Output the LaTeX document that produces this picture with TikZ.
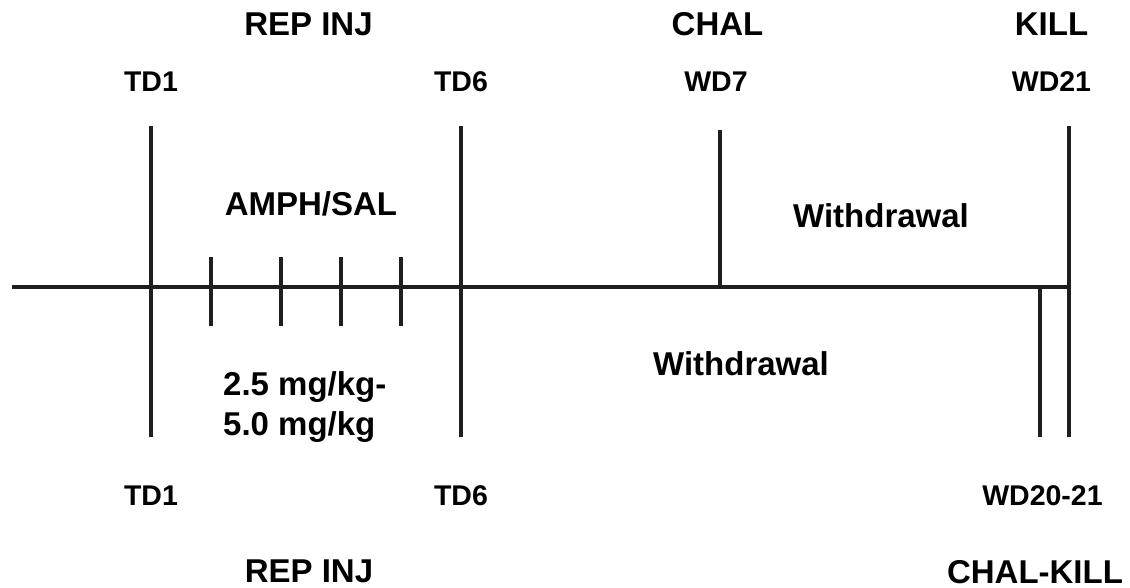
\documentclass[tikz,border=0pt]{standalone}
\usepackage{fontspec}
\setmainfont{Liberation Sans}
\begin{document}
\begin{tikzpicture}[x=1pt,y=-1pt,
  axis/.style={line width=3.6pt,draw=black!88},
  big/.style={font=\fontsize{33}{36}\selectfont\bfseries,inner sep=0pt,anchor=base},
  lab/.style={font=\fontsize{28.5}{31}\selectfont\bfseries,inner sep=0pt,anchor=base},
  mid/.style={font=\fontsize{33}{36}\selectfont\bfseries,inner sep=0pt,anchor=base}]
\useasboundingbox (0,0) rectangle (1130,588);
% time axis
\coordinate (start) at (12,287);
\coordinate (end) at (1071,287);
\draw[axis] (start) -- (end);
% vertical markers
\coordinate (td1t) at (151,126); \coordinate (td1b) at (151,437);
\coordinate (td6t) at (461,126); \coordinate (td6b) at (461,437);
\coordinate (wd7t) at (720,130); \coordinate (wd7b) at (720,287);
\coordinate (wd21t) at (1069,126); \coordinate (wd21b) at (1069,437);
\coordinate (wd20t) at (1040,287); \coordinate (wd20b) at (1040,437);
\draw[axis] (td1t) -- (td1b);
\draw[axis] (td6t) -- (td6b);
\draw[axis] (wd7t) -- (wd7b);
\draw[axis] (wd21t) -- (wd21b);
\draw[axis] (wd20t) -- (wd20b);
% daily injection ticks
\foreach \x/\n in {211/a,281/b,341/c,401/d}{
  \coordinate (tk\n t) at (\x,257); \coordinate (tk\n b) at (\x,326);
  \draw[axis] (tk\n t) -- (tk\n b);
}
% top labels
\node[big] (repinjtop) at (308.5,36) {REP INJ};
\node[big] (chal) at (717.5,36) {CHAL};
\node[big] (kill) at (1051.5,36) {KILL};
\node[lab] (td1top) at (151,92) {TD1};
\node[lab] (td6top) at (461,92) {TD6};
\node[lab] (wd7) at (716,92) {WD7};
\node[lab] (wd21) at (1051.5,92) {WD21};
\node[mid] (amph) at (311,216) {AMPH/SAL};
\node[mid] (wdtop) at (881,228) {Withdrawal};
% bottom labels
\node[mid] (wdbot) at (741,375) {Withdrawal};
\node[mid,anchor=base west] (dose1) at (223,395) {2.5 mg/kg-};
\node[mid,anchor=base west] (dose2) at (223,435) {5.0 mg/kg};
\node[lab] (td1bot) at (151,505) {TD1};
\node[lab] (td6bot) at (461,505) {TD6};
\node[lab] (wd2021) at (1042.5,505) {WD20-21};
\node[big] (repinjbot) at (309,582) {REP INJ};
\node[big] (chalkill) at (1035,583) {CHAL-KILL};
\end{tikzpicture}
\end{document}
